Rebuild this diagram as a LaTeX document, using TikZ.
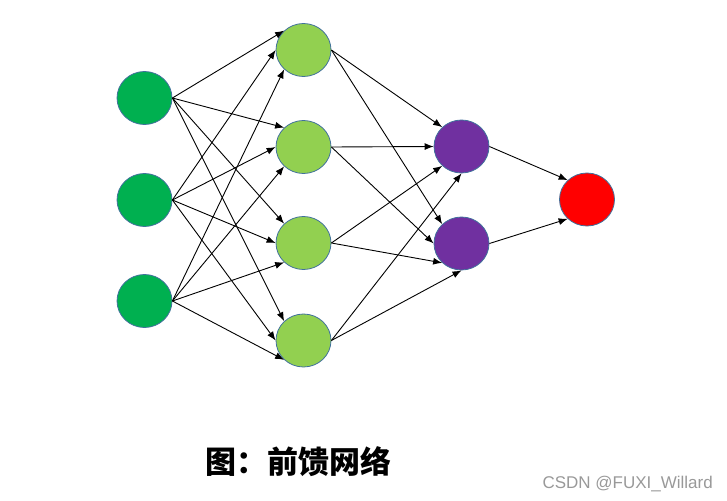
\documentclass[tikz,border=0pt]{standalone}
\usepackage{fontspec}
\usetikzlibrary{shapes.geometric,arrows.meta}
\newfontfamily\cjk{Noto Sans CJK SC}
\newfontfamily\wmfont{Liberation Sans}
\definecolor{ingreen}{HTML}{00B050}
\definecolor{hidgreen}{HTML}{92D050}
\definecolor{outpurple}{HTML}{7030A0}
\definecolor{finalred}{HTML}{FF0000}
\definecolor{rimblue}{HTML}{41719C}
\tikzset{
  neuron/.style={ellipse, draw=rimblue, line width=0.8pt, inner sep=0pt,
    minimum width=55pt, minimum height=53pt},
  conn/.style={line width=0.9pt, -{Latex[length=9pt,width=7pt]}},
}
\begin{document}
\begin{tikzpicture}[x=1pt,y=-1pt]
\useasboundingbox (0,0) rectangle (727,500);
% input layer
\node[neuron, fill=ingreen] (i1) at (144.5,98) {};
\node[neuron, fill=ingreen] (i2) at (144.5,200) {};
\node[neuron, fill=ingreen] (i3) at (144.5,301) {};
% hidden layer
\node[neuron, fill=hidgreen] (h1) at (303.5,50) {};
\node[neuron, fill=hidgreen] (h2) at (303.5,147) {};
\node[neuron, fill=hidgreen] (h3) at (303.5,243) {};
\node[neuron, fill=hidgreen] (h4) at (303.5,340.5) {};
% second layer
\node[neuron, fill=outpurple] (p1) at (461.5,146.5) {};
\node[neuron, fill=outpurple] (p2) at (461.5,243.5) {};
% output
\node[neuron, fill=finalred] (o) at (587,199.5) {};
% input -> hidden
\foreach \h in {h1,h2,h3,h4}{
  \draw[conn] (i1.east) -- (\h.135);
  \draw[conn] (i2.east) -- (\h.west);
  \draw[conn] (i3.east) -- (\h.225);
}
% hidden -> second
\draw[conn] (h1.east) -- (p1.135);
\draw[conn] (h1.east) -- (p2.135);
\draw[conn] (h2.east) -- (p1.west);
\draw[conn] (h2.east) -- (p2.west);
\draw[conn] (h3.east) -- (p1.225);
\draw[conn] (h3.east) -- (p2.225);
\draw[conn] (h4.east) -- (p1.south);
\draw[conn] (h4.east) -- (p2.south);
% second -> output
\draw[conn] (p1.east) -- (o.135);
\draw[conn] (p2.east) -- (o.225);
% caption
\node[font=\cjk\bfseries\fontsize{31}{36}\selectfont, inner sep=0pt] (cap) at (298.5,462) {图：前馈网络};
\node[font=\wmfont\fontsize{17}{20}\selectfont, text=black!40, anchor=base east, inner sep=0pt] (wm) at (713,488) {CSDN @FUXI\_Willard};
\end{tikzpicture}
\end{document}
